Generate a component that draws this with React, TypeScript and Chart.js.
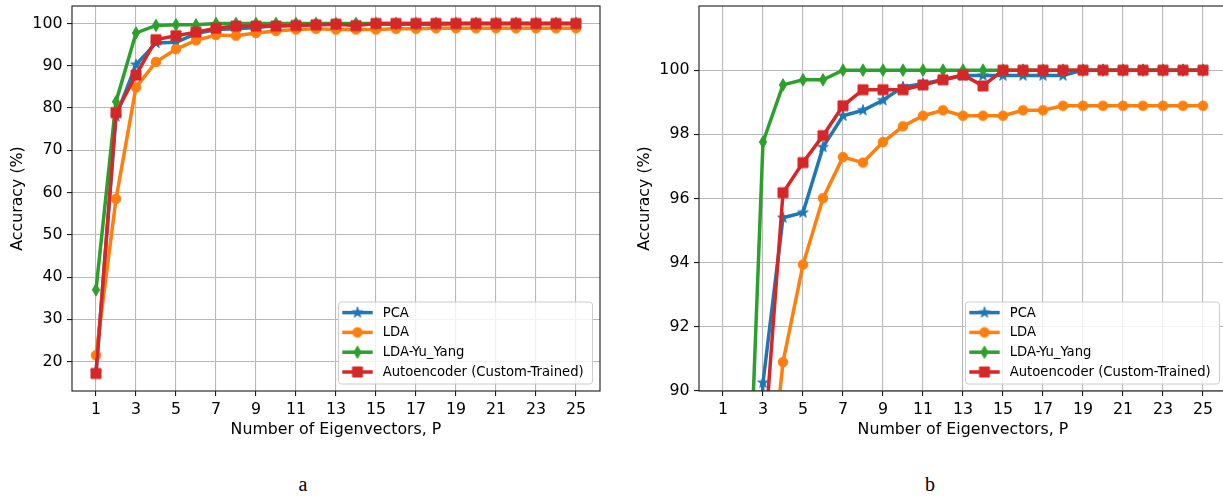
import React, { useEffect, useRef } from "react";
import { Chart, registerables } from "chart.js";

Chart.register(...registerables);

// ---------------- data ----------------
const eigenvectors = [1, 2, 3, 4, 5, 6, 7, 8, 9, 10, 11, 12, 13, 14, 15, 16, 17, 18, 19, 20, 21, 22, 23, 24, 25];
const pcaAcc = [17.5, 78.0, 90.26, 95.4, 95.56, 97.6, 98.58, 98.75, 99.06, 99.48, 99.58, 99.7, 99.83, 99.83, 99.83, 99.83, 99.83, 99.83, 100, 100, 100, 100, 100, 100, 100];
const ldaAcc = [21.5, 58.5, 84.9, 90.9, 93.94, 96.01, 97.29, 97.12, 97.76, 98.25, 98.58, 98.75, 98.58, 98.58, 98.58, 98.75, 98.75, 98.89, 98.89, 98.89, 98.89, 98.89, 98.89, 98.89, 98.89];
const ldaYuYangAcc = [37.0, 81.5, 97.76, 99.54, 99.7, 99.7, 100, 100, 100, 100, 100, 100, 100, 100, 100, 100, 100, 100, 100, 100, 100, 100, 100, 100, 100];
const autoencoderAcc = [17.2, 78.9, 87.8, 96.18, 97.12, 97.96, 98.89, 99.39, 99.39, 99.39, 99.54, 99.7, 99.85, 99.51, 100, 100, 100, 100, 100, 100, 100, 100, 100, 100, 100];
const seriesNames = ["PCA", "LDA", "LDA-Yu_Yang", "Autoencoder (Custom-Trained)"];
const xTickValues = [1, 3, 5, 7, 9, 11, 13, 15, 17, 19, 21, 23, 25];
const yTicksA = [20, 30, 40, 50, 60, 70, 80, 90, 100];
const yTicksB = [90, 92, 94, 96, 98, 100];
const xLabel = "Number of Eigenvectors, P";
const yLabel = "Accuracy (%)";
const captions = ["a", "b"];

// ---------------- styles ----------------
const COLORS = ["#1f77b4", "#ff7f0e", "#2ca02c", "#d62728"];
const MARKERS = ["star", "circle", "diamond", "square"];
const FONT = "DejaVu Sans";

function makeMarker(kind: string, color: string): HTMLCanvasElement {
  const c = document.createElement("canvas");
  const s = 16;
  c.width = s;
  c.height = s;
  const g = c.getContext("2d")!;
  g.fillStyle = color;
  g.strokeStyle = color;
  g.lineWidth = 1;
  g.translate(s / 2, s / 2);
  g.beginPath();
  if (kind === "star") {
    for (let i = 0; i < 10; i++) {
      const r = i % 2 === 0 ? 5.6 : 2.2;
      const a = -Math.PI / 2 + (i * Math.PI) / 5;
      const px = r * Math.cos(a);
      const py = r * Math.sin(a);
      if (i === 0) g.moveTo(px, py);
      else g.lineTo(px, py);
    }
  } else if (kind === "circle") {
    g.arc(0, 0, 4.8, 0, Math.PI * 2);
  } else if (kind === "diamond") {
    g.moveTo(0, -6.2);
    g.lineTo(3.6, 0);
    g.lineTo(0, 6.2);
    g.lineTo(-3.6, 0);
  } else {
    g.rect(-5, -5, 10, 10);
  }
  g.closePath();
  g.fill();
  g.stroke();
  return c;
}

function makeOverlayPlugin(markers: HTMLCanvasElement[]) {
  return {
    id: "spinesAndLegend",
    afterDatasetsDraw(chart: any) {
      const { ctx, chartArea } = chart;
      ctx.save();
      // spines
      ctx.strokeStyle = "#1a1a1a";
      ctx.lineWidth = 1.1;
      ctx.strokeRect(chartArea.left, chartArea.top, chartArea.right - chartArea.left, chartArea.bottom - chartArea.top);
      // legend
      const bw = 254;
      const bh = 82;
      const bx = chartArea.right - 7.5 - bw;
      const by = chartArea.bottom - 7 - bh;
      ctx.beginPath();
      ctx.roundRect(bx, by, bw, bh, 3);
      ctx.fillStyle = "rgba(255,255,255,0.8)";
      ctx.fill();
      ctx.strokeStyle = "#cccccc";
      ctx.lineWidth = 1;
      ctx.stroke();
      ctx.font = `13.2px '${FONT}'`;
      ctx.textBaseline = "middle";
      ctx.textAlign = "left";
      seriesNames.forEach((name, i) => {
        const ly = by + 10.6 + i * 19.8;
        ctx.beginPath();
        ctx.moveTo(bx + 3.8, ly);
        ctx.lineTo(bx + 34.2, ly);
        ctx.strokeStyle = COLORS[i];
        ctx.lineWidth = 3.5;
        ctx.stroke();
        const m = markers[i];
        ctx.drawImage(m, bx + 19 - m.width / 2, ly - m.height / 2);
        ctx.fillStyle = "#000";
        ctx.fillText(name, bx + 44.2, ly + 0.5);
      });
      ctx.restore();
    },
  };
}

function buildChart(canvas: HTMLCanvasElement, yMin: number, yMax: number, yTicks: number[]) {
  const markers = COLORS.map((c, i) => makeMarker(MARKERS[i], c));
  const seriesValues = [pcaAcc, ldaAcc, ldaYuYangAcc, autoencoderAcc];
  const datasets = seriesValues.map((vals, i) => ({
    label: seriesNames[i],
    data: eigenvectors.map((p, j) => ({ x: p, y: vals[j] })),
    borderColor: COLORS[i],
    backgroundColor: COLORS[i],
    borderWidth: 3.5,
    pointStyle: markers[i],
    pointRadius: 5,
    pointHoverRadius: 5,
    tension: 0,
    clip: 0,
    order: 3 - i,
  }));
  const tickFont = { family: FONT, size: 15.8 };
  const titleFont = { family: FONT, size: 15.8 };
  const chart = new Chart(canvas, {
    type: "line",
    data: { datasets },
    plugins: [makeOverlayPlugin(markers)],
    options: {
      animation: false,
      responsive: false,
      devicePixelRatio: 1,
      layout: { autoPadding: false, padding: { top: 6, right: 11, left: 0, bottom: 0 } },
      plugins: { legend: { display: false }, tooltip: { enabled: false } },
      scales: {
        x: {
          type: "linear",
          min: -0.2,
          max: 26.2,
          afterBuildTicks: (s: any) => {
            s.ticks = xTickValues.map((v) => ({ value: v }));
          },
          afterFit: (s: any) => {
            s.height = 49;
            s.paddingLeft = 0;
            s.paddingRight = 0;
          },
          ticks: { font: tickFont, color: "#000", padding: 4, autoSkip: false, maxRotation: 0, callback: (v: any) => String(v) },
          grid: { color: "#b9b9b9", lineWidth: 1.1, tickLength: 5, tickColor: "#1a1a1a", tickWidth: 1.1 },
          border: { display: false },
          title: { display: true, text: xLabel, font: titleFont, color: "#000", padding: { top: 0, bottom: 0.5 } },
        },
        y: {
          type: "linear",
          min: yMin,
          max: yMax,
          afterBuildTicks: (s: any) => {
            s.ticks = yTicks.map((v) => ({ value: v }));
          },
          afterFit: (s: any) => {
            s.width = 72;
            s.paddingTop = 0;
            s.paddingBottom = 0;
          },
          ticks: { font: tickFont, color: "#000", padding: 4.5, autoSkip: false, callback: (v: any) => String(v) },
          grid: { color: "#b9b9b9", lineWidth: 1.1, tickLength: 5, tickColor: "#1a1a1a", tickWidth: 1.1 },
          border: { display: false },
          title: { display: true, text: yLabel, font: titleFont, color: "#000", padding: { top: 8.8, bottom: 0 } },
        },
      },
    } as any,
  });
  return chart;
}

function ChartPanel(props: { left: number; yMin: number; yMax: number; yTicks: number[] }) {
  const ref = useRef<HTMLCanvasElement>(null);
  useEffect(() => {
    const chart = buildChart(ref.current!, props.yMin, props.yMax, props.yTicks);
    return () => chart.destroy();
  }, []);
  return (
    <canvas
      ref={ref}
      width={611}
      height={440}
      style={{ position: "absolute", left: props.left, top: 0, width: 611, height: 440 }}
    />
  );
}

export default function App() {
  const captionStyle = (x: number): React.CSSProperties => ({
    position: "absolute",
    left: x,
    top: 484,
    transform: "translate(-50%, -50%)",
    fontFamily: "'Liberation Serif', serif",
    fontSize: 20,
    lineHeight: 1,
    color: "#000",
  });
  return (
    <div
      style={{
        position: "absolute",
        left: 0,
        top: 0,
        width: 1223,
        height: 498,
        overflow: "hidden",
        background: "#fff",
      }}
    >
      <ChartPanel left={0} yMin={13.06} yMax={104.14} yTicks={yTicksA} />
      <ChartPanel left={627} yMin={90} yMax={102} yTicks={yTicksB} />
      <div style={captionStyle(303)}>{captions[0]}</div>
      <div style={captionStyle(930)}>{captions[1]}</div>
    </div>
  );
}
